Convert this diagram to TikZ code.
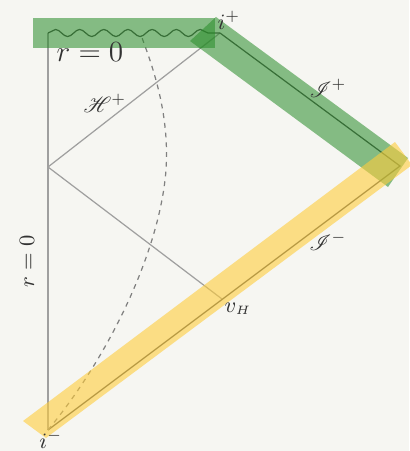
\documentclass[tikz,border=0pt]{standalone}
\usepackage{amsmath,amssymb,mathrsfs}
\usepackage{tikz}
\usetikzlibrary{decorations.pathmorphing}
\definecolor{paper}{RGB}{246,246,242}
\definecolor{bandg}{RGB}{40,140,40}
\definecolor{bandy}{RGB}{255,205,60}

\begin{document}
\begin{tikzpicture}[x=0.41pt,y=-0.41pt,font=\small,wl/.style={gray!75,line width=0.5pt},nl/.style={black!70,line width=0.5pt},gband/.style={fill=bandg,fill opacity=0.55},yband/.style={fill=bandy,fill opacity=0.6},lbl/.style={text=black!80,inner sep=1pt}]
\fill[paper] (0,0) rectangle (409,451);
\useasboundingbox (0,0) rectangle (409,451);
% points of the diagram
\coordinate (im) at (48,430); \coordinate (ip) at (220,33); \coordinate (io) at (400,166);
\coordinate (c) at (48,167); \coordinate (vh) at (222,299); \coordinate (rt) at (48,33);
\coordinate (st) at (141,35);
% lines
\draw[wl] (im)--(rt);
\draw[wl] (c)--(ip); \draw[wl] (c)--(vh);
\draw[nl] (im)--(io)--(ip);
\draw[nl,decorate,decoration={snake,segment length=9.9pt,amplitude=1.45pt}] (rt)--(ip);
\draw[gray,line width=0.5pt,dash pattern=on 2pt off 2pt] (im) .. controls (110,355) and (160,250) .. (166,170) .. controls (170,110) and (150,60) .. (st);
% bands
\fill[gband] (33,18) -- (215,18) -- (215,48) -- (33,48) -- cycle;
\fill[gband] (216,17) -- (190,41) -- (388,187) -- (408,158) -- cycle;
\fill[yband] (23,421) -- (46,438) -- (412,165) -- (395,142) -- cycle;
% labels
\node[lbl] (lip) at (229,20) {$i^+$};
\node[lbl] (lrt) at (90,52) {\large$r=0$};
\node[lbl] (lh) at (105,103) {$\mathscr{H}^+$};
\node[lbl,rotate=90] (lrl) at (27,261) {$r=0$};
\node[lbl] (lsp) at (328,88) {$\mathscr{I}^+$};
\node[lbl] (lsm) at (328,241) {$\mathscr{I}^-$};
\node[lbl] (lvh) at (238,309) {$v_{\scriptscriptstyle H}$};
\node[lbl] (lim) at (51,439) {$i^-$};
\end{tikzpicture}
\end{document}
